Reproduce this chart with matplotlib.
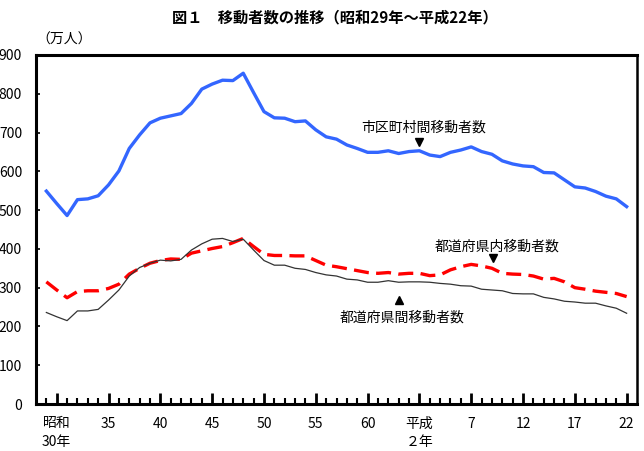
import numpy as np
import matplotlib
matplotlib.use("Agg")
import matplotlib.pyplot as plt

plt.rcParams['font.family'] = ['Noto Sans CJK JP', 'DejaVu Sans']

# 昭和29年(1954) ～ 平成22年(2010), 単位: 万人
years = np.arange(1954, 2011)

# 市区町村間移動者数
shikuchoson = [549, 517, 486, 527, 529, 537, 565, 601, 659, 694,
               725, 737, 743, 749, 775, 812, 825, 835, 834, 853,
               803, 754, 738, 737, 728, 730, 707, 689, 683, 668,
               659, 649, 649, 653, 646, 651, 653, 642, 638, 649,
               655, 663, 651, 644, 627, 619, 614, 612, 597, 596,
               578, 560, 557, 548, 536, 529, 509]

# 都道府県内移動者数
kennai = [315, 294, 274, 290, 292, 292, 298, 309, 335, 350,
          363, 370, 374, 373, 389, 395, 401, 406, 416, 427,
          406, 386, 383, 383, 382, 382, 370, 358, 354, 349,
          344, 339, 337, 339, 335, 337, 337, 331, 333, 346,
          354, 360, 356, 350, 337, 335, 334, 330, 322, 324,
          315, 300, 296, 291, 288, 285, 277]

# 都道府県間移動者数
kenkan = [236, 225, 215, 240, 240, 244, 268, 294, 330, 352,
          363, 371, 369, 373, 397, 413, 425, 427, 419, 425,
          397, 370, 358, 358, 350, 347, 339, 333, 330, 322,
          320, 314, 314, 318, 314, 315, 315, 314, 311, 309,
          305, 304, 296, 294, 292, 285, 284, 284, 275, 271,
          265, 263, 260, 260, 253, 247, 234]

major_ticks = [1955, 1960, 1965, 1970, 1975, 1980, 1985, 1990,
               1995, 2000, 2005, 2010]
major_labels = ["昭和\n30年", "35", "40", "45", "50", "55", "60",
                "平成\n２年", "7", "12", "17", "22"]

fig = plt.figure(figsize=(6.44, 4.51), dpi=100)
ax = fig.add_axes([36/644, 47/451, 601/644, 349/451])

ax.plot(years, shikuchoson, color="#3366FF", lw=2.4, solid_joinstyle="round")
ax.plot(years, kennai, color="#FF0000", lw=2.4, dashes=(4.5, 2.2))
ax.plot(years, kenkan, color="#333333", lw=0.9)

ax.set_xlim(1953, 2011)
ax.set_ylim(0, 900)
ax.set_yticks(np.arange(0, 901, 100))
ax.set_xticks(major_ticks)
ax.set_xticklabels(major_labels, linespacing=1.45)
ax.set_xticks(years, minor=True)

ax.tick_params(axis="y", direction="in", length=3, width=1.2, pad=10,
               labelsize=10)
ax.tick_params(axis="x", which="major", direction="in", length=8, width=2,
               pad=9, labelsize=10)
ax.tick_params(axis="x", which="minor", direction="in", length=4, width=1.5)
for lab in ax.get_xticklabels():
    lab.set_verticalalignment("top")

for side in ["left", "bottom", "top"]:
    ax.spines[side].set_linewidth(2.2)
ax.spines["right"].set_linewidth(1.8)

# 注記
ax.text(1990.4, 714, "市区町村間移動者数", ha="center", va="center", fontsize=10)
ax.plot([1990], [676], marker="v", color="black", ms=6)
ax.text(1997.5, 405, "都道府県内移動者数", ha="center", va="center", fontsize=10)
ax.plot([1997.1], [376], marker="v", color="black", ms=6)
ax.text(1988.3, 222, "都道府県間移動者数", ha="center", va="center", fontsize=10)
ax.plot([1988], [268], marker="^", color="black", ms=6)

fig.text(335/644, 1 - 17/451, "図１　移動者数の推移（昭和29年～平成22年）",
         ha="center", va="center", fontsize=11, fontweight="bold")
fig.text(64/644, 1 - 40/451, "（万人）", ha="center", va="center", fontsize=10)

fig.savefig("out.png", dpi=100)
